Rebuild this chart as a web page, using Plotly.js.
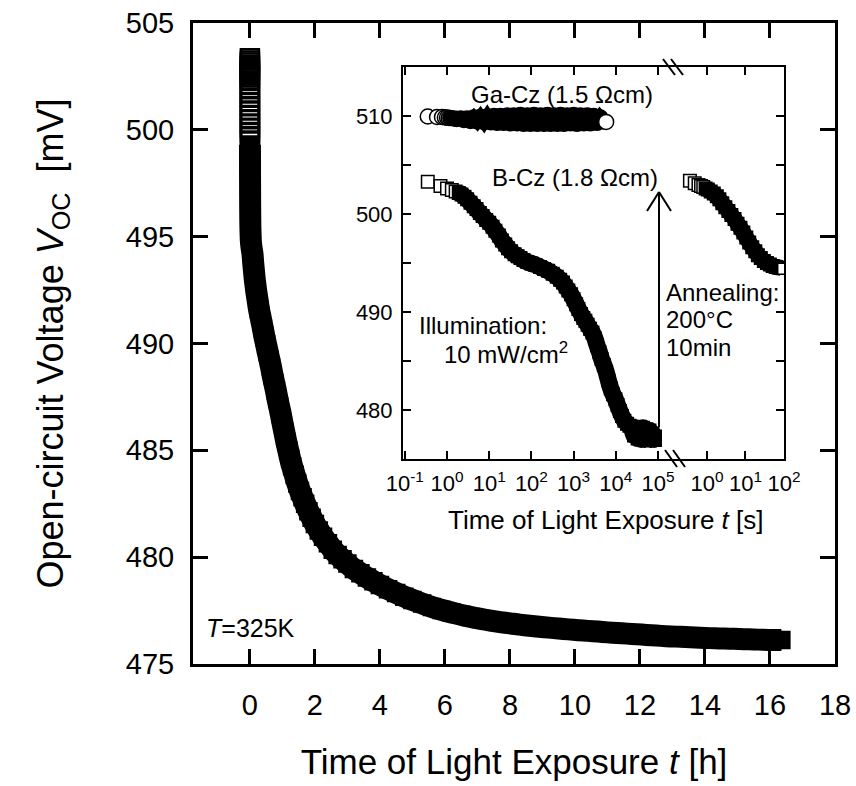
<!DOCTYPE html>
<html>
<head>
<meta charset="utf-8">
<script src="https://cdn.plot.ly/plotly-3.0.1.min.js"></script>
<style>html,body{margin:0;padding:0;background:#fff;}#chart{width:856px;height:786px;}</style>
</head>
<body>
<div id="chart"></div>
<script>
// ---------- Main panel: Voc vs time of light exposure (hours) ----------
// first readings at t ~ 0 (seconds after switching on the light), open squares column
const mainColT = [0.0001,0.00012,0.00014,0.00016,0.00018,0.0002,0.00022,0.00025,0.00028,0.00032,0.00044,0.0005,0.00058,0.00067,0.00078,0.0009,0.001,0.0011,0.0012,0.0014,0.0015,0.0017,0.0019,0.002,0.0022];
const mainColV = [503.35,503.25,503.15,503.05,502.95,502.85,502.75,502.65,502.55,502.45,502.3,502.1,501.9,501.7,501.5,501.3,501.1,500.9,500.7,500.5,500.3,500.1,499.9,499.7,499.5];
// dense decay curve
const mainT = [0.0024,0.003,0.0038,0.0045,0.0052,0.006,0.007,0.008,0.01,0.012,0.016,0.022,0.03,0.05,0.08,0.10,0.125,0.15,0.175,0.20,
  0.24,0.28,0.32,0.36,0.40,0.45,0.50,0.55,0.60,0.65,0.70,0.75,0.80,0.85,0.90,0.95,1.00,1.06,1.12,1.18,1.24,1.30,1.38,1.46,1.54,1.62,1.70,1.80,1.90,2.00,
  2.12,2.25,2.40,2.55,2.70,2.85,3.00,3.20,3.40,3.60,3.80,4.00,4.25,4.50,4.75,5.00,5.30,5.60,5.90,6.20,6.50,6.80,7.10,7.40,7.70,8.00,8.30,8.60,8.90,9.20,
  9.50,9.80,10.1,10.4,10.7,11.0,11.3,11.6,11.9,12.2,12.5,12.8,13.1,13.4,13.7,14.0,14.3,14.6,14.9,15.2,15.5,15.8,16.1,16.35];
const mainV = [499.3,499.0,498.6,498.2,497.8,497.4,497.0,496.6,496.2,495.8,495.4,495.1,494.8,494.5,494.2,493.8,493.4,493.0,492.7,492.4,
  492.0,491.6,491.3,491.0,490.7,490.3,489.95,489.6,489.25,488.9,488.5,488.15,487.8,487.4,487.05,486.7,486.3,485.85,485.4,485.0,484.6,484.25,483.85,483.45,483.1,482.8,482.5,482.15,481.85,481.55,
  481.25,480.95,480.65,480.35,480.1,479.9,479.7,479.45,479.25,479.05,478.87,478.7,478.5,478.32,478.15,478.0,477.83,477.67,477.53,477.41,477.3,477.2,477.11,477.03,476.96,476.9,476.84,476.79,476.74,476.7,
  476.66,476.62,476.58,476.55,476.52,476.48,476.45,476.42,476.39,476.36,476.33,476.3,476.28,476.26,476.24,476.22,476.2,476.19,476.18,476.16,476.15,476.13,476.12,476.12];

// ---------- Inset: log time (seconds) ----------
const gaT = [0.35,0.58,0.76,0.89,1.0,1.1,1.2,1.45,1.7,2.1,2.5,3,3.6,4.3,5.2,6.2,7.5,9,11,13,15.5,18.5,22,27,32,38,46,55,66,80,95,115,138,165,200,240,285,340,410,490,590,700,850,1000,1200,1450,1750,2100,2500,3000,3600,4300,5200,5900];
const gaV = [509.95,509.9,509.9,509.85,509.85,509.8,509.8,509.75,509.7,509.75,509.6,509.75,509.5,509.85,509.45,509.9,509.4,509.95,509.35,510.0,509.3,510.0,509.3,510.05,509.25,510.05,509.25,510.1,509.2,510.05,509.2,510.1,509.2,510.05,509.2,510.1,509.2,510.05,509.2,510.1,509.2,510.05,509.25,510.1,509.2,510.05,509.25,510.05,509.25,510.0,509.3,509.85,509.45,509.4];

const bT1 = [0.35,0.7,1.0,1.3,1.6,1.9,2.2,2.6,3.0,3.6,4.3,5.0,6.0,7.0,8.5,10,12,14,17,20,24,28,33,40,47,55,65,80,100,125,160,200,250,320,400,480,560,650,750,870,
  1000,1150,1300,1500,1700,1900,2150,2450,2800,3200,3600,4100,4600,5200,5900,6700,7600,8600,9800,11000,12500,14000,16000,18500,21000,24000,
  27000,30000,33000,36000,40000,44000,48000,53000,58000,63000,68000,74000,80000,87000,95000];
const bV1 = [503.3,502.85,502.6,502.45,502.3,502.15,502.0,501.75,501.5,501.15,500.8,500.5,500.1,499.8,499.4,499.1,498.7,498.3,497.8,497.3,496.9,496.5,496.2,495.9,495.7,495.5,495.3,495.1,494.95,494.8,494.6,494.4,494.2,493.9,493.6,493.3,493.0,492.6,492.2,491.8,
  491.3,490.8,490.3,489.8,489.4,489.1,488.7,488.3,487.9,487.3,486.6,485.9,485.2,484.6,483.9,483.0,482.2,481.6,481.1,480.5,479.9,479.4,478.9,478.6,478.4,478.1,
  477.4,478.2,477.1,478.1,477.0,478.2,477.0,478.0,477.1,477.9,477.0,477.6,477.0,477.3,476.95];

// after annealing 200°C, 10 min
const bT2 = [0.36,0.48,0.6,0.7,0.8,0.92,1.05,1.25,1.5,1.8,2.1,2.5,3.0,3.6,4.3,5.2,6.2,7.4,8.8,10.5,12.5,15,18,21,25,30,36,43,51,61,73,86,100];
const bV2 = [503.4,503.15,502.95,502.85,502.75,502.6,502.5,502.3,502.1,501.8,501.5,501.1,500.7,500.3,499.9,499.5,499.0,498.6,498.1,497.6,497.1,496.6,496.2,495.8,495.5,495.2,495.0,494.85,494.7,494.6,494.55,494.5,494.5];

const mainXTicks = [0,2,4,6,8,10,12,14,16,18];
const mainYTicks = [475,480,485,490,495,500,505];
const insetXTicks1 = [0.1,1,10,100,1000,1e4,1e5];
const insetXText1 = ['10<sup>-1</sup>','10<sup>0</sup>','10<sup>1</sup>','10<sup>2</sup>','10<sup>3</sup>','10<sup>4</sup>','10<sup>5</sup>'];
const insetXTicks2 = [1,10,100];
const insetXText2 = ['10<sup>0</sup>','10<sup>1</sup>','10<sup>2</sup>'];
const insetYTicks = [480,490,500,510];

// ---------- geometry helpers (pixel -> paper) ----------
const L = 193, R = 835, T = 23, B = 664;
const px = x => (x - L) / (R - L);
const py = y => (B - y) / (B - T);
const FONT = 'Liberation Sans, Arial, Helvetica, sans-serif';

function fillColors(n, firstWhite, lastWhite) {
  const c = [];
  for (let i = 0; i < n; i++) c.push((i < firstWhite || (lastWhite && i === n - 1)) ? 'white' : 'black');
  return c;
}
// densely overlapping markers render as a solid band: a thick line under the black part of each series
function band(xs, ys, from, to, xa, ya, w, shape) {
  return { x: xs.slice(from, to), y: ys.slice(from, to), type: 'scatter', mode: 'lines', xaxis: xa, yaxis: ya,
           line: { color: 'black', width: w, shape: shape || 'spline', smoothing: 0.7 }, hoverinfo: 'skip' };
}

const traces = [
  { x: mainColT, y: mainColV, type: 'scatter', mode: 'markers', xaxis: 'x', yaxis: 'y',
    marker: { symbol: 'square-open', size: 18, color: 'black', line: { width: 2.5, color: 'black' } } },
  band(mainT, mainV, 0, mainT.length, 'x', 'y', 22),
  { x: mainT, y: mainV, type: 'scatter', mode: 'markers', xaxis: 'x', yaxis: 'y',
    marker: { symbol: 'square', size: 16, color: 'black', line: { width: 2.5, color: 'black' } } },
  band(gaT, gaV, 6, gaT.length - 1, 'x2', 'y2', 13, 'linear'),
  { x: gaT, y: gaV, type: 'scatter', mode: 'markers', xaxis: 'x2', yaxis: 'y2',
    marker: { symbol: 'circle', size: 15, color: fillColors(gaT.length, 6, true), line: { width: 1.5, color: 'black' } } },
  band(bT1, bV1, 5, bT1.length, 'x2', 'y2', 17),
  { x: bT1, y: bV1, type: 'scatter', mode: 'markers', xaxis: 'x2', yaxis: 'y2',
    marker: { symbol: 'square', size: 12.5, color: fillColors(bT1.length, 5, false), line: { width: 1.5, color: 'black' } } },
  band(bT2, bV2, 5, bT2.length - 1, 'x3', 'y3', 16),
  { x: bT2, y: bV2, type: 'scatter', mode: 'markers', xaxis: 'x3', yaxis: 'y3',
    marker: { symbol: 'square', size: 12.5, color: fillColors(bT2.length, 5, true), line: { width: 1.5, color: 'black' } } }
];

const mainAxis = {
  showline: true, linewidth: 3, linecolor: 'black', mirror: 'ticks',
  ticks: 'inside', ticklen: 15, tickwidth: 3, tickcolor: 'black',
  showgrid: false, zeroline: false, tickfont: { family: FONT, size: 29, color: 'black' }
};
const insetX = {
  type: 'log', showline: true, linewidth: 2, linecolor: 'black', mirror: 'ticks',
  ticks: 'inside', ticklen: 8, tickwidth: 2, tickcolor: 'black', tickmode: 'array',
  showgrid: false, zeroline: false, tickfont: { family: FONT, size: 22, color: 'black' }, ticklabelstandoff: 4
};
const insetY = {
  range: [475, 515], tickmode: 'array', tickvals: insetYTicks,
  minor: { tickmode: 'linear', tick0: 475, dtick: 5, ticks: 'inside', ticklen: 8, tickwidth: 2, tickcolor: 'black', showgrid: false },
  showline: true, linewidth: 2, linecolor: 'black', ticks: 'inside', ticklen: 8, tickwidth: 2, tickcolor: 'black',
  showgrid: false, zeroline: false, tickfont: { family: FONT, size: 22, color: 'black' },
  domain: [py(459), py(67)]
};

const layout = {
  width: 856, height: 786,
  margin: { l: L, r: 856 - R, t: T, b: 786 - B },
  paper_bgcolor: 'white', plot_bgcolor: 'white',
  showlegend: false,
  font: { family: FONT, color: 'black' },
  xaxis: Object.assign({}, mainAxis, {
    domain: [0, 1], anchor: 'y', range: [-1.75, 18.0001], tickmode: 'array', tickvals: mainXTicks,
    ticklabelstandoff: 13,
    title: { text: 'Time of Light Exposure <i>t</i> [h]', font: { family: FONT, size: 35, color: 'black' }, standoff: 30 }
  }),
  yaxis: Object.assign({}, mainAxis, {
    domain: [0, 1], anchor: 'x', range: [474.999, 505.001], tickmode: 'array', tickvals: mainYTicks,
    ticklabelstandoff: 10,
    title: { text: 'Open-circuit Voltage <i>V</i><sub>OC</sub>  [mV]\u00a0\u00a0\u00a0', font: { family: FONT, size: 36, color: 'black' }, standoff: 52 }
  }),
  xaxis2: Object.assign({}, insetX, {
    domain: [px(403), px(662)], anchor: 'y2', range: [-1.043, 5.095], tickvals: insetXTicks1, ticktext: insetXText1
  }),
  xaxis3: Object.assign({}, insetX, {
    domain: [px(662), px(784)], anchor: 'y3', range: [-1.169, 2.001], tickvals: insetXTicks2, ticktext: insetXText2
  }),
  yaxis2: Object.assign({}, insetY, { anchor: 'x2', side: 'left', ticklabelstandoff: 4 }),
  yaxis3: Object.assign({}, insetY, { anchor: 'x3', side: 'right', showticklabels: false }),
  shapes: [
    // axis break marks
    { type: 'line', xref: 'paper', yref: 'paper', x0: px(663), y0: py(59), x1: px(675), y1: py(75), line: { color: 'black', width: 2 } },
    { type: 'line', xref: 'paper', yref: 'paper', x0: px(671), y0: py(59), x1: px(683), y1: py(75), line: { color: 'black', width: 2 } },
    { type: 'line', xref: 'paper', yref: 'paper', x0: px(665), y0: py(450), x1: px(677), y1: py(467), line: { color: 'black', width: 2 } },
    { type: 'line', xref: 'paper', yref: 'paper', x0: px(673), y0: py(450), x1: px(685), y1: py(467), line: { color: 'black', width: 2 } },
    // annealing arrow
    { type: 'line', xref: 'paper', yref: 'paper', x0: px(659), y0: py(427), x1: px(659), y1: py(193), line: { color: 'black', width: 2 } },
    { type: 'line', xref: 'paper', yref: 'paper', x0: px(647), y0: py(211), x1: px(659), y1: py(192), line: { color: 'black', width: 2 } },
    { type: 'line', xref: 'paper', yref: 'paper', x0: px(671), y0: py(211), x1: px(659), y1: py(192), line: { color: 'black', width: 2 } }
  ],
  annotations: [
    { text: 'Ga-Cz (1.5 Ωcm)', x: px(562), y: py(95), xanchor: 'center', yanchor: 'middle' },
    { text: 'B-Cz (1.8 Ωcm)', x: px(575), y: py(177), xanchor: 'center', yanchor: 'middle' },
    { text: 'Annealing:', x: px(664), y: py(292), xanchor: 'left', yanchor: 'middle' },
    { text: '200°C', x: px(664), y: py(319), xanchor: 'left', yanchor: 'middle' },
    { text: '10min', x: px(664), y: py(347), xanchor: 'left', yanchor: 'middle' },
    { text: 'Illumination:', x: px(417), y: py(325), xanchor: 'left', yanchor: 'middle' },
    { text: '10 mW/cm<sup>2</sup>', x: px(442), y: py(353), xanchor: 'left', yanchor: 'middle' },
    { text: 'Time of Light Exposure <i>t</i> [s]', x: px(606), y: py(520), xanchor: 'center', yanchor: 'middle', font: { family: FONT, size: 26, color: 'black' } },
    { text: '<i>T</i>=325K', x: px(204), y: py(628), xanchor: 'left', yanchor: 'middle', font: { family: FONT, size: 25, color: 'black' } }
  ].map(a => Object.assign({ xref: 'paper', yref: 'paper', showarrow: false, font: { family: FONT, size: 24, color: 'black' } }, a))
};

Plotly.newPlot('chart', traces, layout, { displayModeBar: false, staticPlot: true });
</script>
</body>
</html>
